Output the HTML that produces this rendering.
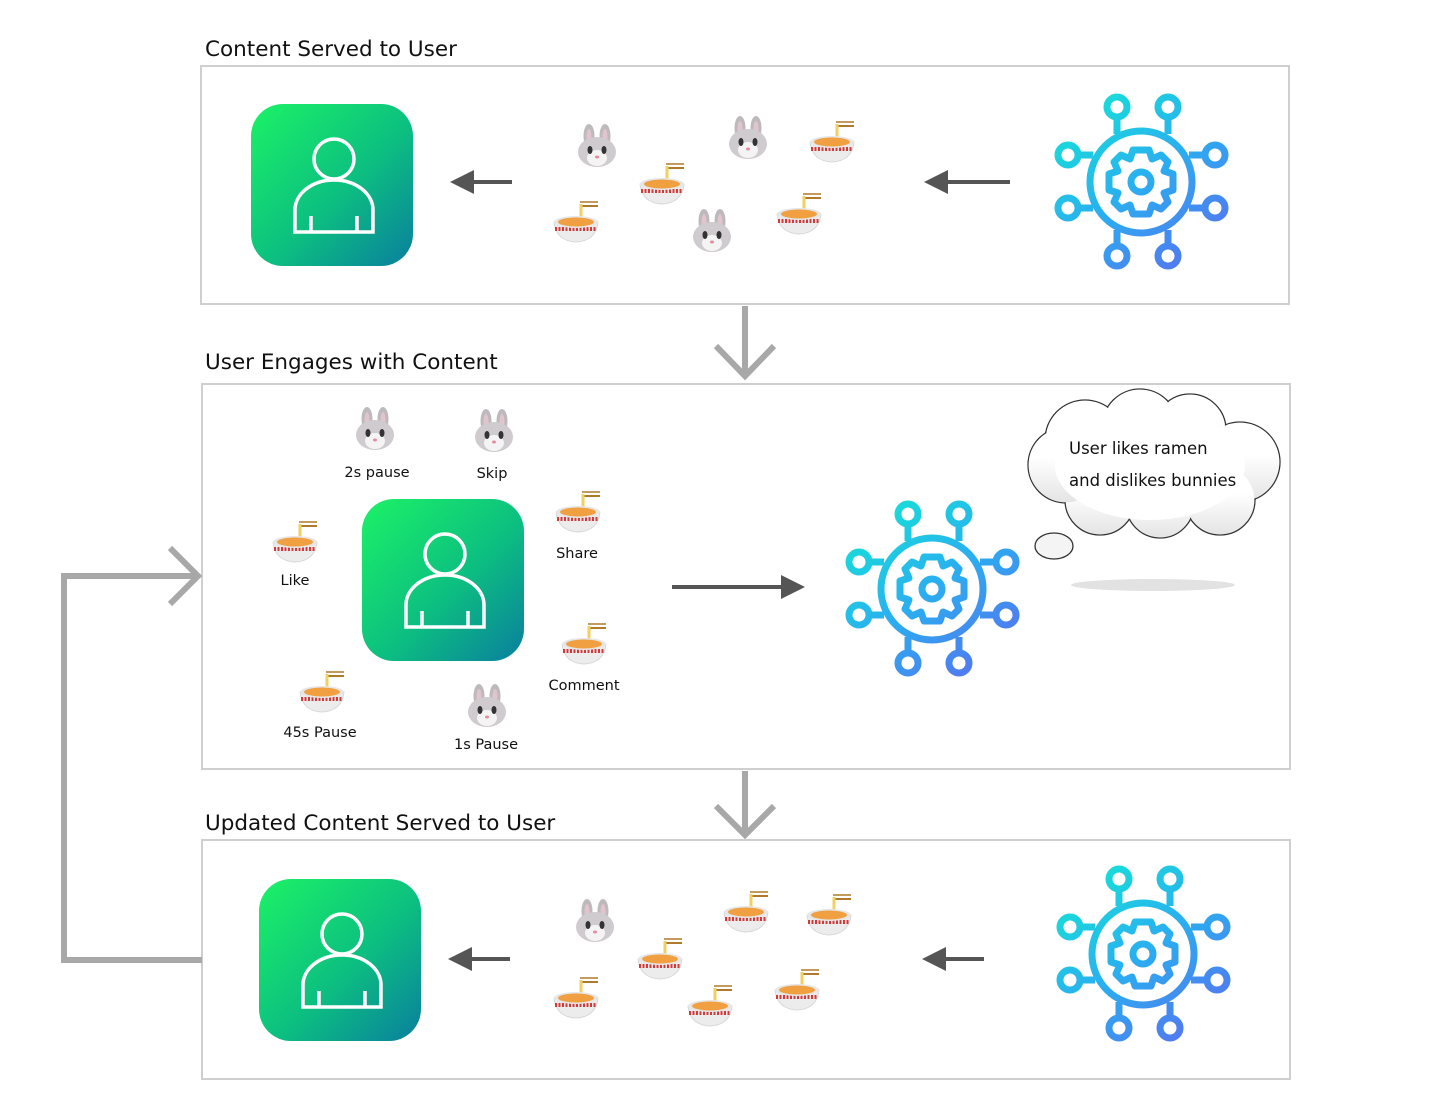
<!DOCTYPE html>
<html><head><meta charset="utf-8"><style>
html,body{margin:0;padding:0;background:#fff;}
svg{display:block;}
text{font-family:"DejaVu Sans","Liberation Sans",sans-serif;fill:#111;}
</style></head><body>
<svg width="1456" height="1110" viewBox="0 0 1456 1110" xmlns="http://www.w3.org/2000/svg">
<defs>
<linearGradient id="ug" x1="0" y1="0" x2="1" y2="1">
<stop offset="0" stop-color="#1cf266"/><stop offset="0.55" stop-color="#0cbf80"/><stop offset="1" stop-color="#0a7f9e"/></linearGradient>
<linearGradient id="gg" gradientUnits="userSpaceOnUse" x1="-70" y1="-85" x2="70" y2="85">
<stop offset="0" stop-color="#14e6d4"/><stop offset="0.5" stop-color="#2aaef0"/><stop offset="1" stop-color="#5a6ef0"/></linearGradient>
<linearGradient id="cg" x1="0" y1="0" x2="0" y2="1"><stop offset="0.4" stop-color="#fff"/><stop offset="1" stop-color="#e4e4e4"/></linearGradient>
<g id="user">
<rect x="0" y="0" width="162" height="162" rx="32" fill="url(#ug)"/>
<g fill="none" stroke="#fff" stroke-width="3.5">
<circle cx="83" cy="55" r="20"/>
<path d="M44 128 V106 A39 30 0 0 1 122 106 V128 Z"/>
<path d="M60 112 V128 M106 112 V128"/>
</g></g>
<g id="gear" fill="none" stroke="url(#gg)" stroke-width="7">
<circle r="51"/>
<circle r="10"/>
<path d="M-8 -32 L8 -32 L11 -23 L20 -27 L27 -20 L23 -11 L32 -8 L32 8 L23 11 L27 20 L20 27 L11 23 L8 32 L-8 32 L-11 23 L-20 27 L-27 20 L-23 11 L-32 8 L-32 -8 L-23 -11 L-27 -20 L-20 -27 L-11 -23 Z" stroke-linejoin="round"/>
<path d="M-24 -48 V-65 M27 -48 V-65 M-24 48 V64 M27 48 V64 M-48 -27 H-63 M-48 26 H-63 M48 -27 H64 M48 26 H64"/>
<circle cx="-24" cy="-75" r="10"/><circle cx="27" cy="-75" r="10"/>
<circle cx="-73" cy="-27" r="10"/><circle cx="-73" cy="26" r="10"/>
<circle cx="74" cy="-27" r="10"/><circle cx="74" cy="26" r="10"/>
<circle cx="-24" cy="74" r="10"/><circle cx="27" cy="74" r="10"/>
</g>
<g id="bunny">
<ellipse cx="-8" cy="-11" rx="5.5" ry="12" fill="#bdb9bd"/>
<ellipse cx="8" cy="-11" rx="5.5" ry="12" fill="#bdb9bd"/>
<ellipse cx="-8" cy="-10" rx="2.5" ry="8" fill="#e2c4cc"/>
<ellipse cx="8" cy="-10" rx="2.5" ry="8" fill="#e2c4cc"/>
<ellipse cx="0" cy="5" rx="19" ry="15" fill="#cfcbcf"/>
<ellipse cx="0" cy="11" rx="10" ry="8" fill="#f4f4f4"/>
<ellipse cx="-7" cy="3" rx="2.5" ry="4" fill="#333"/>
<ellipse cx="7" cy="3" rx="2.5" ry="4" fill="#333"/>
<ellipse cx="0" cy="10" rx="2" ry="1.5" fill="#e88aa0"/>
</g>
<g id="ramen">
<path d="M4 -14 H22" stroke="#b07a2a" stroke-width="2"/>
<path d="M4 -18 H22" stroke="#b07a2a" stroke-width="1.5"/>
<path d="M5 -16 V2" stroke="#f0d060" stroke-width="3"/>
<path d="M-22 2 Q-20 21 0 22 Q20 21 22 2 Z" fill="#ececec" stroke="#d8d8d8" stroke-width="1"/>
<path d="M-21 9 H21" stroke="#d23a3a" stroke-width="4" stroke-dasharray="2 1.5"/>
<ellipse cx="0" cy="2" rx="22" ry="6" fill="#e6e6e6"/>
<ellipse cx="0" cy="2" rx="18" ry="4.5" fill="#f0a040"/>
</g>
<g id="cloudS" fill="none" stroke="#333" stroke-width="1.3">
<circle cx="1085" cy="440" r="40"/><circle cx="1140" cy="427" r="38"/><circle cx="1190" cy="430" r="36"/>
<circle cx="1240" cy="462" r="40"/><circle cx="1220" cy="500" r="35"/><circle cx="1160" cy="504" r="34"/>
<circle cx="1100" cy="500" r="35"/><circle cx="1066" cy="465" r="38"/>
</g>
</defs>

<rect x="201" y="66" width="1088" height="238" fill="none" stroke="#cfcfcf" stroke-width="2"/>
<rect x="202" y="384" width="1088" height="385" fill="none" stroke="#cfcfcf" stroke-width="2"/>
<rect x="202" y="840" width="1088" height="239" fill="none" stroke="#cfcfcf" stroke-width="2"/>

<text x="205" y="56" font-size="21.5">Content Served to User</text>
<text x="205" y="369" font-size="21.5">User Engages with Content</text>
<text x="205" y="830" font-size="21.5">Updated Content Served to User</text>

<use href="#user" x="251" y="104"/>
<use href="#gear" transform="translate(1141,182)"/>
<use href="#bunny" transform="translate(597,147)"/>
<use href="#bunny" transform="translate(748,139)"/>
<use href="#bunny" transform="translate(712,232)"/>
<use href="#ramen" transform="translate(576,220)"/>
<use href="#ramen" transform="translate(662,182)"/>
<use href="#ramen" transform="translate(832,140)"/>
<use href="#ramen" transform="translate(799,212)"/>
<g fill="#555" stroke="#555">
<path d="M512 182 H468" stroke-width="4"/><path d="M450 182 L474 170 L474 194 Z" stroke="none"/>
<path d="M1010 182 H942" stroke-width="4"/><path d="M924 182 L948 170 L948 194 Z" stroke="none"/>
<path d="M672 587 H786" stroke-width="4"/><path d="M805 587 L781 575 L781 599 Z" stroke="none"/>
<path d="M510 959 H466" stroke-width="4"/><path d="M448 959 L472 947 L472 971 Z" stroke="none"/>
<path d="M984 959 H940" stroke-width="4"/><path d="M922 959 L946 947 L946 971 Z" stroke="none"/>
</g>

<g fill="none" stroke="#a8a8a8" stroke-width="6">
<path d="M745 306 V376 M716 346 L745 376 L774 346"/>
<path d="M745 771 V834 M716 806 L745 835 L774 806"/>
<path d="M202 960 H64 V576 H198 M170 548 L198 576 L170 604"/>
</g>

<use href="#user" x="362" y="499"/>
<use href="#gear" transform="translate(932,589)"/>
<use href="#bunny" transform="translate(375,430)"/>
<use href="#bunny" transform="translate(494,432)"/>
<use href="#bunny" transform="translate(487,707)"/>
<use href="#ramen" transform="translate(295,540)"/>
<use href="#ramen" transform="translate(578,510)"/>
<use href="#ramen" transform="translate(584,642)"/>
<use href="#ramen" transform="translate(322,690)"/>
<g font-size="14.5" text-anchor="middle">
<text x="377" y="477">2s pause</text>
<text x="492" y="478">Skip</text>
<text x="295" y="585">Like</text>
<text x="577" y="558">Share</text>
<text x="584" y="690">Comment</text>
<text x="320" y="737">45s Pause</text>
<text x="486" y="749">1s Pause</text>
</g>

<ellipse cx="1153" cy="585" rx="82" ry="6" fill="#e2e2e2"/>
<use href="#cloudS"/>
<g fill="url(#cg)">
<circle cx="1085" cy="440" r="39.3"/><circle cx="1140" cy="427" r="37.3"/><circle cx="1190" cy="430" r="35.3"/>
<circle cx="1240" cy="462" r="39.3"/><circle cx="1220" cy="500" r="34.3"/><circle cx="1160" cy="504" r="33.3"/>
<circle cx="1100" cy="500" r="34.3"/><circle cx="1066" cy="465" r="37.3"/>
<ellipse cx="1150" cy="465" rx="95" ry="55" fill="#fff"/>
</g>
<ellipse cx="1054" cy="546" rx="19" ry="13" fill="#f4f4f4" stroke="#333" stroke-width="1.3"/>
<text x="1069" y="454" font-size="16.5">User likes ramen</text>
<text x="1069" y="486" font-size="16.5">and dislikes bunnies</text>

<use href="#user" x="259" y="879"/>
<use href="#gear" transform="translate(1143,954)"/>
<use href="#bunny" transform="translate(595,922)"/>
<use href="#ramen" transform="translate(576,996)"/>
<use href="#ramen" transform="translate(660,957)"/>
<use href="#ramen" transform="translate(746,910)"/>
<use href="#ramen" transform="translate(829,913)"/>
<use href="#ramen" transform="translate(797,988)"/>
<use href="#ramen" transform="translate(710,1004)"/>
</svg>
</body></html>
